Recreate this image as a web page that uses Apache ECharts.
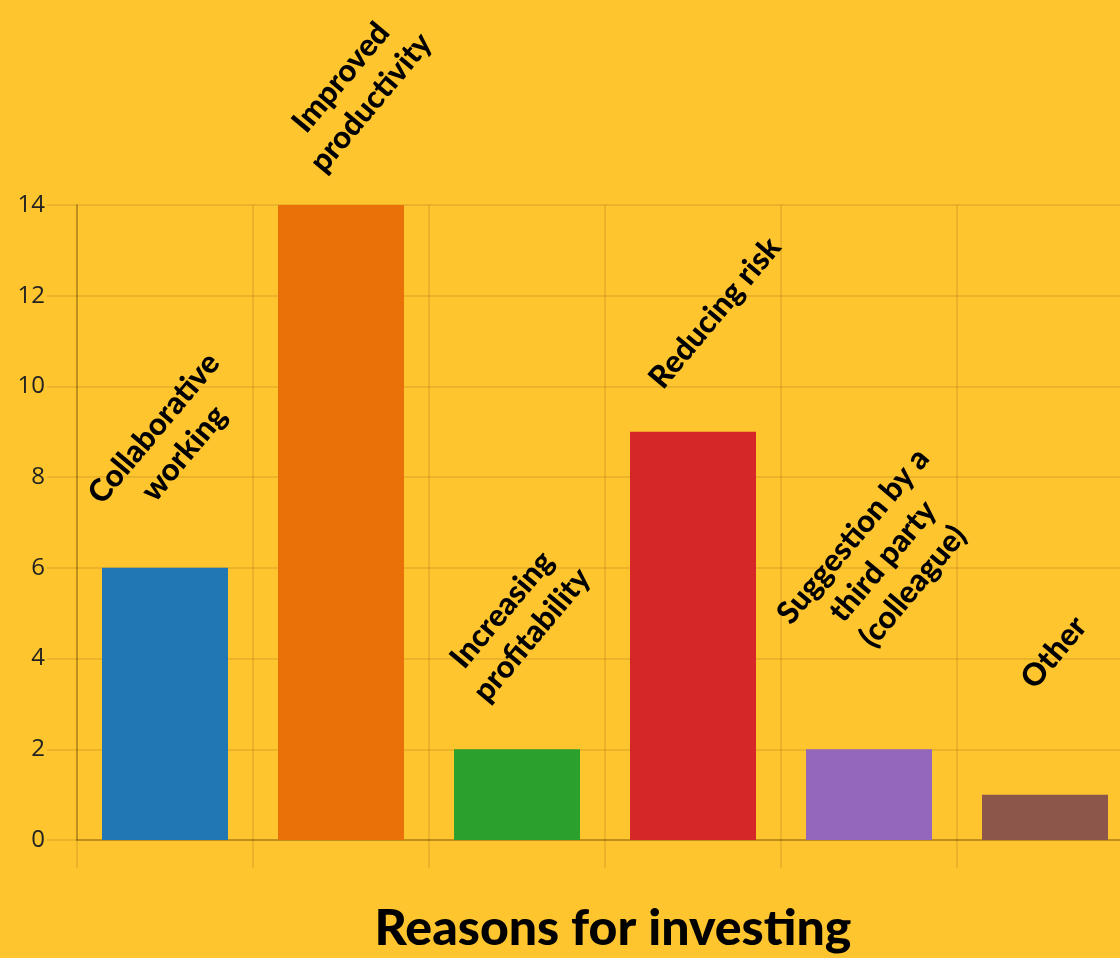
<!DOCTYPE html>
<html>
<head>
<meta charset="utf-8">
<script src="https://cdn.jsdelivr.net/npm/echarts@6/dist/echarts.min.js"></script>
<style>
html,body{margin:0;padding:0;background:#FFC52F;overflow:hidden;}
#chart{width:1140px;height:958px;}
</style>
</head>
<body>
<div id="chart"></div>
<script>
const categories = ['Collaborative\nworking', 'Improved\nproductivity', 'Increasing\nprofitability', 'Reducing risk', 'Suggestion by a\nthird party\n(colleague)', 'Other'];
const values = [6, 14, 2, 9, 2, 1];
const barColors = ['#2077B4', '#EA7108', '#2CA02C', '#D62728', '#9467BD', '#8C564B'];
const axisTitle = 'Reasons for investing';
const yMin = 0, yMax = 14, yStep = 2;
// label anchor relative to each bar's top-left corner (px)
const labelPos = [[67,-127],[78,-115],[63,-127],[85,-119],[77,-188],[72,-142]];

const chart = echarts.init(document.getElementById('chart'));
const gridCol = 'rgba(90,60,0,0.17)';
chart.setOption({
  backgroundColor: '#FFC52F',
  animation: false,
  grid: {left: 77, top: 205, width: 1056, height: 635, containLabel: false, outerBoundsMode: 'none'},
  xAxis: {
    type: 'category',
    data: categories,
    boundaryGap: true,
    axisLine: {show: true, lineStyle: {color: 'rgba(90,60,0,0.4)', width: 1.5}},
    axisTick: {show: true, length: 28, lineStyle: {color: gridCol, width: 1.5}},
    axisLabel: {show: false},
    splitLine: {show: true, lineStyle: {color: gridCol, width: 1.5}},
    name: axisTitle,
    nameLocation: 'middle',
    nameGap: 64,
    nameTextStyle: {fontFamily: 'Lato', fontWeight: 900, fontSize: 50, color: '#000', padding: [0, 0, 0, 16]}
  },
  yAxis: {
    type: 'value',
    min: yMin, max: yMax, interval: yStep,
    axisLine: {show: true, lineStyle: {color: 'rgba(90,60,0,0.4)', width: 1.5}},
    axisTick: {show: true, length: 30, lineStyle: {color: gridCol, width: 1.5}},
    axisLabel: {margin: 32, fontFamily: 'Open Sans', fontSize: 24, color: '#222'},
    splitLine: {show: true, lineStyle: {color: gridCol, width: 1.5}}
  },
  series: [{
    type: 'bar',
    barWidth: 126,
    data: values.map((v, i) => ({
      value: v,
      itemStyle: {color: barColors[i]},
      label: {position: labelPos[i]}
    })),
    label: {
      show: true,
      formatter: (p) => categories[p.dataIndex],
      rotate: 50,
      align: 'center',
      verticalAlign: 'middle',
      fontFamily: 'Lato',
      fontWeight: 900,
      fontSize: 31,
      lineHeight: 39,
      color: '#000'
    }
  }]
});
</script>
</body>
</html>
